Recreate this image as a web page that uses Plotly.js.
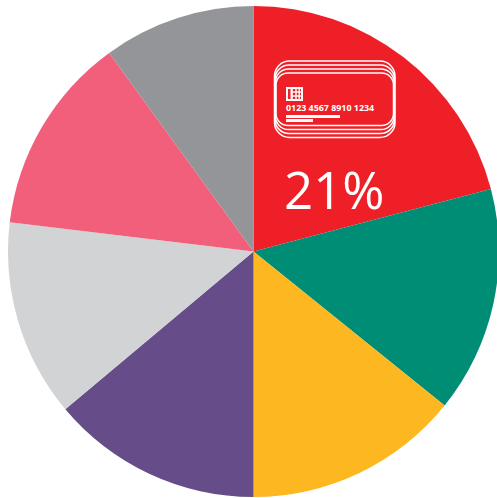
<!DOCTYPE html>
<html><head><meta charset="utf-8"><script src="https://cdn.plot.ly/plotly-3.0.1.min.js"></script>
<style>html,body{margin:0;padding:0;background:#fff;overflow:hidden}</style></head><body><div style="width:497px;height:498px;overflow:hidden"><div id="c"></div></div>
<script>
const categories=['Credit cards','Green','Yellow','Purple','Light grey','Pink','Grey'];
const values=[20.9,14.9,14.2,13.9,13.0,13.1,10.0];
const colors=['#ee1f26','#008d76','#fdb721','#664c89','#d1d3d4','#f15f7b','#939598'];
const valueLabel='21%';
const cardNumber='0123 4567 8910 1234';

const M={l:8,r:0,t:6,b:1},W=499,H=498;
const fx=x=>(x-M.l)/(W-M.l-M.r), fy=y=>1-(y-M.t)/(H-M.t-M.b);
const P=(x,y)=>fx(x)+','+fy(y);
function rr(x0,y0,x1,y1,r){const k=r*0.45;return 'M'+P(x0+r,y0)+'L'+P(x1-r,y0)+'C'+P(x1-k,y0)+' '+P(x1,y0+k)+' '+P(x1,y0+r)+'L'+P(x1,y1-r)+'C'+P(x1,y1-k)+' '+P(x1-k,y1)+' '+P(x1-r,y1)+'L'+P(x0+r,y1)+'C'+P(x0+k,y1)+' '+P(x0,y1-k)+' '+P(x0,y1-r)+'L'+P(x0,y0+r)+'C'+P(x0,y0+k)+' '+P(x0+k,y0)+' '+P(x0+r,y0)+'Z';}
const outline=(path,w)=>({type:'path',xref:'paper',yref:'paper',path:path,line:{color:'#fff',width:w},fillcolor:'rgba(0,0,0,0)'});
const bar=(x0,y0,x1,y1)=>({type:'rect',xref:'paper',yref:'paper',x0:fx(x0),x1:fx(x1),y0:fy(y0),y1:fy(y1),fillcolor:'#fff',line:{width:0}});
const shapes=[
 outline(rr(274.5,61,395,137.5,15),1.5),
 outline(rr(275,65,394.5,133.5,14),1.5),
 outline(rr(275.5,69,394,129.5,13),1.5),
 outline(rr(276,73,393.5,125.5,12),1.5),
 outline('M'+P(287,88)+'L'+P(302,88)+'L'+P(302,100)+'L'+P(287,100)+'Z',2),
 bar(290.5,88,292.8,100),bar(295.3,88,296.7,100),bar(298.5,88,299.9,100),bar(292,91.3,302,92.7),bar(292,95.3,302,96.7),
 bar(286,115,340,118),bar(286,119,313,122)
];
Plotly.newPlot('c',[{type:'pie',labels:categories,values:values,sort:false,direction:'clockwise',rotation:0,
marker:{colors:colors,line:{width:0}},textinfo:'none',hoverinfo:'none',showlegend:false,domain:{x:[0,1],y:[0,1]}}],
{width:W,height:H,margin:M,paper_bgcolor:'#fff',showlegend:false,shapes:shapes,
annotations:[
 {text:valueLabel,x:fx(333.5),y:fy(188.5),xref:'paper',yref:'paper',xanchor:'center',yanchor:'middle',showarrow:false,font:{family:'Open Sans',size:51,color:'#fff'}},
 {text:cardNumber,x:fx(329.8),y:fy(107.5),xref:'paper',yref:'paper',xanchor:'center',yanchor:'middle',showarrow:false,font:{family:'Open Sans',size:8.9,color:'#fff',weight:700}}
]},{displayModeBar:false});
</script></body></html>
